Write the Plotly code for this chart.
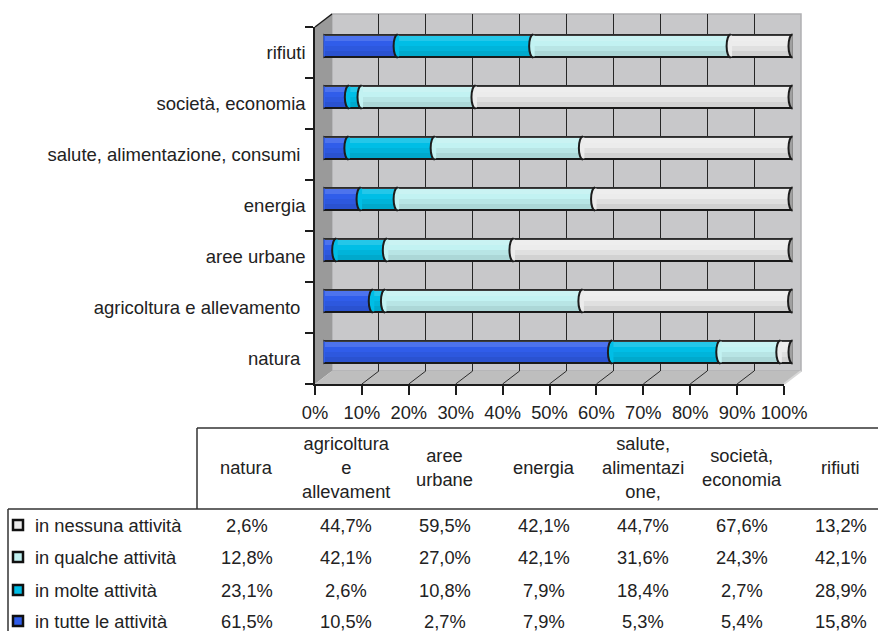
import plotly.graph_objects as go

# ---- data -------------------------------------------------------------
categories = ["natura", "agricoltura e allevamento", "aree urbane", "energia",
              "salute, alimentazione, consumi", "società, economia", "rifiuti"]
axis_labels = ["natura\u00a0", "agricoltura e allevamento\u00a0", "aree urbane", "energia",
               "salute, alimentazione, consumi\u00a0", "società, economia", "rifiuti"]
table_headers = ["natura", "agricoltura<br>e<br>allevament", "aree<br>urbane", "energia",
                 "salute,<br>alimentazi<br>one,", "società,<br>economia", "rifiuti"]

tutte = [61.5, 10.5, 2.7, 7.9, 5.3, 5.4, 15.8]
molte = [23.1, 2.6, 10.8, 7.9, 18.4, 2.7, 28.9]
qualche = [12.8, 42.1, 27.0, 42.1, 31.6, 24.3, 42.1]
nessuna = [2.6, 44.7, 59.5, 42.1, 44.7, 67.6, 13.2]

series_names = ["in tutte le attività", "in molte attività",
                "in qualche attività", "in nessuna attività"]
series_values = [tutte, molte, qualche, nessuna]
series_colors = ["#305DEA", "#00BEE6", "#C2F2F2", "#ECECEC"]

x_ticks = list(range(0, 101, 10))
x_ticktext = [f"{t}%" for t in x_ticks]

# ---- geometry helpers (pixel -> paper) -------------------------------
W, H = 878, 631


def fx(px):
    return px / W


def fy(py):
    return 1 - py / H


FRONT_L, FRONT_R, FRONT_T, FRONT_B = 315, 784, 27, 384
DX, DY = 17, 13            # depth of the 3-D box
BAR_W = 0.45               # bar thickness in category units
BAR_HALF = 11.5            # half height of a cylinder in px
CAP_RX = 4                 # horizontal radius of the cylinder ends
EDGE = "#1c1c1c"
FONT = "Liberation Sans, Arial, sans-serif"
FS = 18.3
TXT = "#222222"

fig = go.Figure()

# stacked bars (drawn half way into the box)
for name, vals, col in zip(series_names, series_values, series_colors):
    fig.add_trace(go.Bar(
        y=categories, x=vals, name=name, orientation="h",
        marker=dict(color=col, line=dict(color=EDGE, width=2)),
        width=BAR_W, xaxis="x2", yaxis="y2", showlegend=False, hoverinfo="skip",
    ))

# invisible helpers so that the back-wall grid and the front axes are drawn
fig.add_trace(go.Scatter(x=[0, 100], y=[0, 1], mode="markers", marker=dict(opacity=0),
                         xaxis="x", yaxis="y", showlegend=False, hoverinfo="skip"))
fig.add_trace(go.Scatter(x=[0] * len(axis_labels), y=axis_labels, mode="markers",
                         marker=dict(opacity=0), xaxis="x3", yaxis="y3",
                         showlegend=False, hoverinfo="skip"))

shapes = []

# back wall, left wall and floor
shapes.append(dict(type="rect", xref="paper", yref="paper", layer="below",
                   x0=fx(FRONT_L + DX), x1=fx(FRONT_R + DX),
                   y0=fy(FRONT_B - DY), y1=fy(FRONT_T - DY),
                   fillcolor="#C8C8CA", line=dict(color="#B0B0B2", width=1.5)))
shapes.append(dict(type="path", xref="paper", yref="paper", layer="below",
                   path=(f"M {fx(FRONT_L)},{fy(FRONT_T)} L {fx(FRONT_L + DX)},{fy(FRONT_T - DY)} "
                         f"L {fx(FRONT_L + DX)},{fy(FRONT_B - DY)} L {fx(FRONT_L)},{fy(FRONT_B)} Z"),
                   fillcolor="#9A9A9A", line=dict(width=0)))
shapes.append(dict(type="path", xref="paper", yref="paper", layer="below",
                   path=(f"M {fx(FRONT_L)},{fy(FRONT_B)} L {fx(FRONT_L + DX)},{fy(FRONT_B - DY)} "
                         f"L {fx(FRONT_R + DX)},{fy(FRONT_B - DY)} L {fx(FRONT_R)},{fy(FRONT_B)} Z"),
                   fillcolor="#BEBEBE", line=dict(width=0)))
shapes.append(dict(type="line", xref="paper", yref="paper", layer="below",
                   x0=fx(FRONT_R), y0=fy(FRONT_B), x1=fx(FRONT_R + DX), y1=fy(FRONT_B - DY),
                   line=dict(color="#D8D8D8", width=2)))
shapes.append(dict(type="line", xref="paper", yref="paper", layer="below",
                   x0=fx(FRONT_L), y0=fy(FRONT_T), x1=fx(FRONT_L + DX), y1=fy(FRONT_T - DY),
                   line=dict(color=EDGE, width=1.5)))

# floor grid lines running from each front tick to the back wall
for t in x_ticks[1:]:
    shapes.append(dict(type="line", layer="below",
                       xref="x3", xsizemode="pixel", xanchor=t, x0=0, x1=DX,
                       yref="paper", ysizemode="pixel", yanchor=fy(FRONT_B), y0=0, y1=DY,
                       line=dict(color="#2b2b2b", width=1)))

# cylinder shading: light upper band, darker lower bands
shade_bands = [(5, 11.5, "rgba(255,255,255,0.14)"),
               (-5, 0, "rgba(0,0,0,0.05)"),
               (-11.5, -5, "rgba(0,0,0,0.11)")]

# cylinder ends: a rounded left cap per segment and a grey face at the right end
cap_fill = (f"M 1.5,-{BAR_HALF - 1} L 1.5,{BAR_HALF - 1} L 0,{BAR_HALF - 1} "
            f"C -2.2,{BAR_HALF - 1} -{CAP_RX},5.8 -{CAP_RX},0 "
            f"C -{CAP_RX},-5.8 -2.2,-{BAR_HALF - 1} 0,-{BAR_HALF - 1} Z")
cap_arc = (f"M 0,{BAR_HALF} C -2.2,{BAR_HALF} -{CAP_RX},6.35 -{CAP_RX},0 "
           f"C -{CAP_RX},-6.35 -2.2,-{BAR_HALF} 0,-{BAR_HALF}")
for i, cat in enumerate(categories):
    total = sum(vals[i] for vals in series_values)
    for y0, y1, rgba in shade_bands:
        shapes.append(dict(type="rect", xref="x2", yref="y2", ysizemode="pixel",
                           yanchor=cat, x0=0, x1=total, y0=y0, y1=y1,
                           fillcolor=rgba, line=dict(width=0)))
    start = 0.0
    for vals, col in zip(series_values, series_colors):
        v = vals[i]
        if v > 0:
            shapes.append(dict(type="path", xref="x2", yref="y2",
                               xsizemode="pixel", ysizemode="pixel",
                               xanchor=start, yanchor=cat, path=cap_fill,
                               fillcolor=col, line=dict(width=0)))
            shapes.append(dict(type="path", xref="x2", yref="y2",
                               xsizemode="pixel", ysizemode="pixel",
                               xanchor=start, yanchor=cat, path=cap_arc,
                               fillcolor="rgba(0,0,0,0)", line=dict(color=EDGE, width=2)))
        start += v
    shapes.append(dict(type="circle", xref="x2", yref="y2",
                       xsizemode="pixel", ysizemode="pixel",
                       xanchor=start, yanchor=cat,
                       x0=-CAP_RX, x1=CAP_RX, y0=-BAR_HALF, y1=BAR_HALF,
                       fillcolor="#A0A0A0", line=dict(color=EDGE, width=2)))

# ---- data table under the chart --------------------------------------
TAB_L, TAB_HDR_L, TAB_T, TAB_HDR_B = 8, 197, 428, 509
COL_W = 99
ROW_Y = [525, 557, 590, 621]

shapes.append(dict(type="line", xref="paper", yref="paper", x0=fx(TAB_HDR_L), x1=1,
                   y0=fy(TAB_T), y1=fy(TAB_T), line=dict(color="#333", width=1.5)))
shapes.append(dict(type="line", xref="paper", yref="paper", x0=fx(TAB_HDR_L), x1=fx(TAB_HDR_L),
                   y0=fy(TAB_T), y1=fy(TAB_HDR_B), line=dict(color="#333", width=1.5)))
shapes.append(dict(type="line", xref="paper", yref="paper", x0=fx(TAB_L), x1=1,
                   y0=fy(TAB_HDR_B), y1=fy(TAB_HDR_B), line=dict(color="#333", width=1.5)))
shapes.append(dict(type="line", xref="paper", yref="paper", x0=fx(TAB_L), x1=fx(TAB_L),
                   y0=fy(TAB_HDR_B), y1=0, line=dict(color="#333", width=1.5)))

annotations = []
for j, hdr in enumerate(table_headers):
    annotations.append(dict(xref="paper", yref="paper", x=fx(TAB_HDR_L + COL_W * (j + 0.5)),
                            y=fy((TAB_T + TAB_HDR_B) / 2 - 1), text=hdr, showarrow=False,
                            xanchor="center", yanchor="middle", align="center",
                            font=dict(family=FONT, size=FS, color=TXT)))

# rows listed top-down: nessuna, qualche, molte, tutte
row_order = list(reversed(range(len(series_names))))
for r, k in enumerate(row_order):
    yc = ROW_Y[r]
    shapes.append(dict(type="rect", xref="paper", yref="paper",
                       x0=fx(13), x1=fx(23), y0=fy(yc + 5), y1=fy(yc - 5),
                       fillcolor=series_colors[k], line=dict(color="#111", width=2.5)))
    annotations.append(dict(xref="paper", yref="paper", x=fx(33), y=fy(yc),
                            text=series_names[k], showarrow=False,
                            xanchor="left", yanchor="middle",
                            font=dict(family=FONT, size=FS, color=TXT)))
    for j, v in enumerate(series_values[k]):
        annotations.append(dict(xref="paper", yref="paper",
                                x=fx(TAB_HDR_L + COL_W * (j + 0.5)), y=fy(yc),
                                text=f"{v:.1f}".replace(".", ",") + "%", showarrow=False,
                                xanchor="center", yanchor="middle",
                                font=dict(family=FONT, size=FS, color=TXT)))

fig.update_layout(
    width=W, height=H, autosize=False,
    margin=dict(l=0, r=0, t=0, b=0, pad=0, autoexpand=False),
    paper_bgcolor="white", plot_bgcolor="rgba(0,0,0,0)",
    barmode="stack", showlegend=False,
    font=dict(family=FONT, color=TXT),
    # back wall grid
    xaxis=dict(domain=[fx(FRONT_L + DX), fx(FRONT_R + DX)], range=[0, 100], anchor="y",
               showgrid=True, gridcolor="#262626", gridwidth=1.2, tick0=0, dtick=10,
               zeroline=False, showline=False, ticks="", showticklabels=False,
               automargin=False, fixedrange=True),
    yaxis=dict(domain=[fy(FRONT_B - DY), fy(FRONT_T - DY)], range=[0, 1], anchor="x",
               visible=False, automargin=False, fixedrange=True),
    # bars, set half way into the depth
    xaxis2=dict(domain=[fx(FRONT_L + DX / 2), fx(FRONT_R + DX / 2)], range=[0, 100],
                anchor="y2", visible=False, automargin=False, fixedrange=True),
    yaxis2=dict(domain=[fy(FRONT_B - DY / 2), fy(FRONT_T - DY / 2)], type="category",
                categoryorder="array", categoryarray=categories, range=[-0.5, 6.5],
                anchor="x2", visible=False, automargin=False, fixedrange=True),
    # front axes with ticks and labels
    xaxis3=dict(domain=[fx(FRONT_L), fx(FRONT_R)], range=[0, 100], anchor="y3",
                tickmode="array", tickvals=x_ticks, ticktext=x_ticktext,
                ticks="outside", ticklen=9, tickwidth=1.5, tickcolor=EDGE,
                showline=True, linecolor=EDGE, linewidth=1.5,
                showgrid=False, zeroline=False, ticklabelstandoff=2, automargin=False,
                tickfont=dict(family=FONT, size=FS, color=TXT), fixedrange=True),
    yaxis3=dict(domain=[fy(FRONT_B), fy(FRONT_T)], type="category",
                categoryorder="array", categoryarray=axis_labels, range=[-0.5, 6.5],
                anchor="x3", ticks="outside", ticklen=8, tickwidth=1.5, tickcolor=EDGE,
                tickson="boundaries", showline=True, linecolor=EDGE, linewidth=1.5,
                showgrid=False, zeroline=False, automargin=False, ticklabelstandoff=4,
                tickfont=dict(family=FONT, size=18.5, color=TXT), fixedrange=True),
    shapes=shapes,
    annotations=annotations,
)

fig.write_html("out.html", config={"responsive": False})
